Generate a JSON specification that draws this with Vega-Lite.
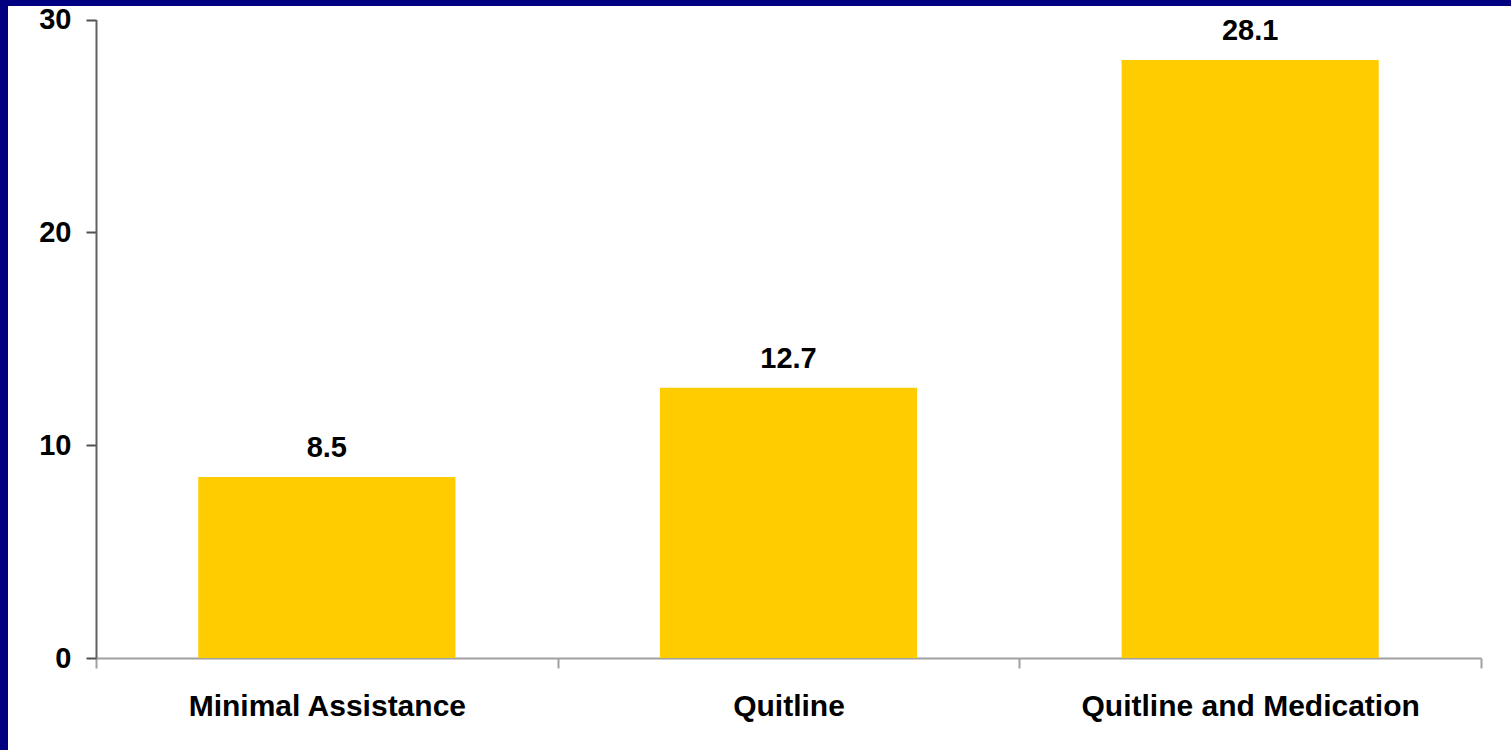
{
  "$schema": "https://vega.github.io/schema/vega-lite/v6.json",
  "autosize": {"type": "none"},
  "padding": {"left": 8, "top": 6, "right": 0, "bottom": 0},
  "width": 1503,
  "height": 744,
  "background": "#000080",
  "config": {
    "view": {"fill": "#ffffff", "stroke": null},
    "font": "Liberation Sans"
  },
  "data": {
    "values": [
      {"group": "Minimal Assistance", "value": 8.5},
      {"group": "Quitline", "value": 12.7},
      {"group": "Quitline and Medication", "value": 28.1}
    ]
  },
  "encoding": {
    "x": {
      "field": "group",
      "type": "nominal",
      "sort": null,
      "scale": {"range": [88, 1473], "paddingInner": 0, "paddingOuter": 0},
      "axis": {
        "title": null,
        "orient": "bottom",
        "offset": -92,
        "labelAngle": 0,
        "labelLimit": 0,
        "labelFont": "Liberation Sans",
        "labelFontSize": 30,
        "labelFontWeight": "bold",
        "labelColor": "#000000",
        "labelPadding": 23,
        "tickBand": "extent",
        "tickSize": 10,
        "tickWidth": 2,
        "tickColor": "#a0a0a0",
        "domainColor": "#a0a0a0",
        "domainWidth": 2,
        "grid": false
      }
    },
    "y": {
      "field": "value",
      "type": "quantitative",
      "scale": {"domain": [0, 30], "range": [652, 13.5], "nice": false, "zero": true},
      "axis": {
        "title": null,
        "orient": "left",
        "offset": -88,
        "values": [0, 10, 20, 30],
        "labelFont": "Liberation Sans",
        "labelFontSize": 29,
        "labelFontWeight": "bold",
        "labelColor": "#000000",
        "labelPadding": 15,
        "labelBaseline": "middle",
        "tickSize": 10,
        "tickWidth": 2,
        "tickColor": "#505050",
        "domainColor": "#606060",
        "domainWidth": 2,
        "grid": false
      }
    }
  },
  "layer": [
    {"mark": {"type": "bar", "color": "#FFCC00", "width": {"band": 0.557}}},
    {
      "mark": {
        "type": "text",
        "font": "Liberation Sans",
        "fontSize": 29,
        "fontWeight": "bold",
        "color": "#000000",
        "baseline": "alphabetic",
        "dy": -20
      },
      "encoding": {"text": {"field": "value", "type": "quantitative", "format": ".1f"}}
    }
  ]
}
